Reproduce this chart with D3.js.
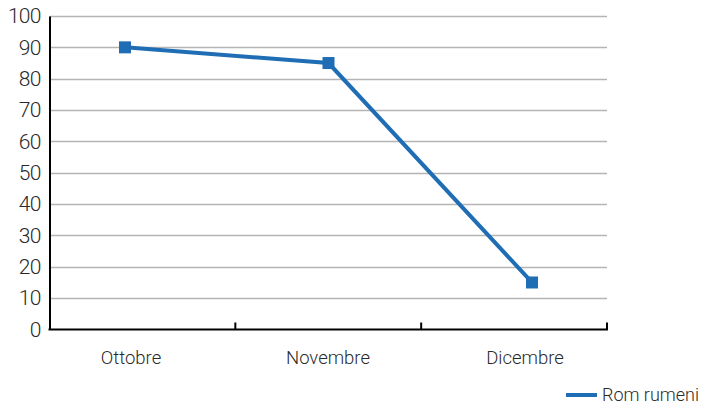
<!DOCTYPE html>
<html><head><meta charset="utf-8">
<script src="https://cdn.jsdelivr.net/npm/d3@7"></script>
<style>
body{margin:0;background:#fff;}
svg{display:block;font-family:Roboto, "Noto Sans", sans-serif;}
</style></head>
<body><svg id="c" width="706" height="404"></svg>
<script>
const categories = ["Ottobre", "Novembre", "Dicembre"];
const seriesName = "Rom rumeni";
const values = [90, 85, 15];
const yTicks = [0,10,20,30,40,50,60,70,80,90,100];

(function(){
const svg = d3.select("#c");
const mLeft = 49.5, mRight = 607, mTop = 16, mBottom = 329.5;
const color = "#1f6eb5";

const y = d3.scaleLinear().domain([0,100]).range([mBottom, mTop]);
const xBand = d3.scaleBand().domain(categories).range([mLeft, mRight]);
const xPt = d3.scalePoint().domain(categories).range([125, 532]);
const xLab = d3.scalePoint().domain(categories).range([131, 525]);

// gridlines
svg.append("g").selectAll("line").data(yTicks.filter(d=>d>0)).join("line")
  .attr("x1", mLeft).attr("x2", mRight)
  .attr("y1", d=>Math.round(y(d))+0.5).attr("y2", d=>Math.round(y(d))+0.5)
  .attr("stroke", "#b4b4b4").attr("stroke-width", 1.3);

// y axis
const ya = svg.append("g").attr("transform", `translate(${mLeft},0)`)
  .call(d3.axisLeft(y).tickValues(yTicks).tickSize(0).tickPadding(9));
ya.select(".domain").attr("stroke","#000").attr("stroke-width",2);
ya.selectAll("text").attr("font-size",21).attr("fill","#2a2a2a").attr("letter-spacing","-0.8px")
  .attr("font-family","Roboto, sans-serif").attr("font-weight",300);

// x axis line
svg.append("line").attr("x1", mLeft-1).attr("x2", mRight+1)
  .attr("y1", mBottom).attr("y2", mBottom).attr("stroke","#000").attr("stroke-width",2);
// tick marks at band boundaries
const bounds = categories.map(c=>xBand(c)).concat([mRight]);
svg.append("g").selectAll("line").data(bounds.slice(1)).join("line")
  .attr("x1", d=>d).attr("x2", d=>d).attr("y1", mBottom).attr("y2", mBottom-7)
  .attr("stroke","#000").attr("stroke-width",2);

// x labels
svg.append("g").selectAll("text").data(categories).join("text")
  .attr("x", d=>xLab(d)).attr("y", 364).attr("text-anchor","middle")
  .attr("font-size",18.5).attr("font-weight",300).attr("fill","#2a2a2a").text(d=>d);

// line
const line = d3.line().x((d,i)=>xPt(categories[i])).y(d=>y(d));
svg.append("path").datum(values).attr("d", line)
  .attr("fill","none").attr("stroke",color).attr("stroke-width",4);
svg.append("g").selectAll("rect").data(values).join("rect")
  .attr("x",(d,i)=>xPt(categories[i])-6).attr("y",d=>y(d)-6)
  .attr("width",12).attr("height",12).attr("fill",color);

// legend
svg.append("line").attr("x1",566).attr("x2",597).attr("y1",395).attr("y2",395)
  .attr("stroke",color).attr("stroke-width",4);
svg.append("text").attr("x",602).attr("y",401).attr("font-size",18).attr("font-weight",300)
  .attr("fill","#2a2a2a").text(seriesName);
})();
</script></body></html>
